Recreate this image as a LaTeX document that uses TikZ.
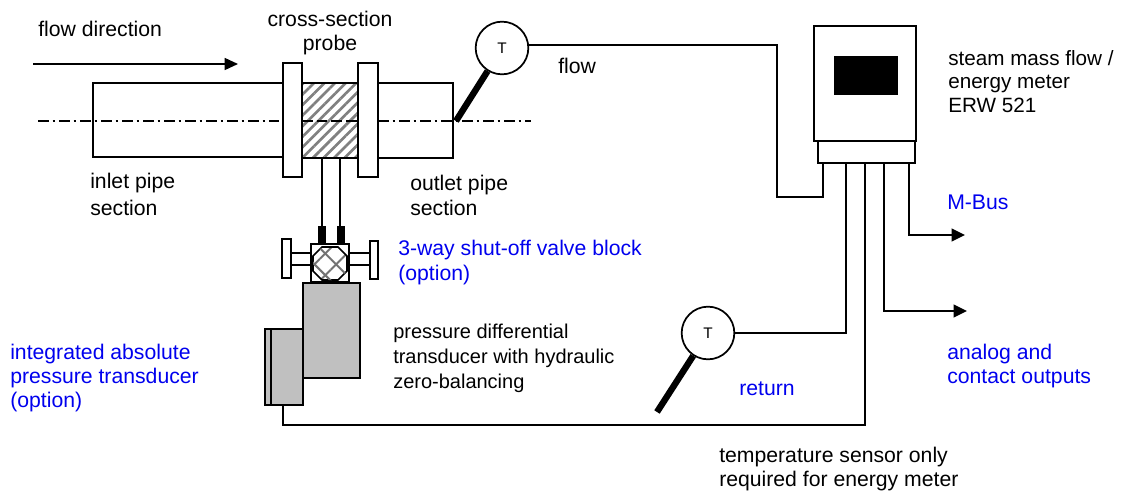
\documentclass[tikz,border=0pt]{standalone}
\usepackage{fontspec}
\setmainfont{Liberation Sans}
\usetikzlibrary{patterns.meta,arrows.meta,shapes.geometric}
\definecolor{bodygray}{HTML}{C0C0C0}
\definecolor{labelblue}{HTML}{0000EE}
\tikzset{
  part/.style={draw,line width=1.3pt,fill=white},
  wire/.style={line width=1.3pt},
  stem/.style={line width=4.8pt},
  axisline/.style={line width=1.1pt,dash pattern=on 8.25pt off 2.75pt on 2pt off 2.75pt},
  sensor/.style={draw,circle,line width=1.3pt,fill=white,minimum size=39.5pt,inner sep=0pt,font=\fontsize{11.5}{12}\selectfont},
  outarrow/.style={wire,-{Triangle[length=10pt,width=9.5pt]}},
  label/.style={inner sep=0pt,anchor=north west,align=left,font=\fontsize{15.9}{17.7}\selectfont},
  bluelabel/.style={label,text=labelblue}
}
\begin{document}
\begin{tikzpicture}[x=0.75pt,y=-0.75pt]
\useasboundingbox (0,0) rectangle (1122,492);
% Flow arrow
\coordinate (flowstart) at (33,64);
\coordinate (flowend) at (238,64);
\draw[line width=1.1pt,-{Triangle[length=10pt,width=9pt]}] (flowstart) -- (flowend);

% Pipe sections
\draw[part] (93,83) rectangle (283,157);
\draw[part] (378,83) rectangle (453,158);

% Probe and flanges
\fill[pattern={Lines[angle=45,distance=5.6pt,line width=2pt]},pattern color=black!50] (302,83) rectangle (358,158);
\draw[line width=1.3pt] (302,83) rectangle (358,158);
\draw[part] (283,63) rectangle (302,177);
\draw[part] (358,63) rectangle (378,177);

% Center line
\coordinate (axisleft) at (38,121);
\coordinate (axisright) at (531,121);
\draw[axisline] (axisleft) -- (279,121);
\draw[axisline,line width=0.8pt,dash pattern=on 8pt off 3pt] (302,121) -- (358,121);
\draw[axisline,line width=0.9pt] (378,121) -- (axisright);

% Impulse lines
\coordinate (probeleft) at (322,158);
\coordinate (proberight) at (340,158);
\coordinate (blockleft) at (322,226);
\coordinate (blockright) at (340,226);
\draw[wire] (probeleft) -- (blockleft);
\draw[wire] (proberight) -- (blockright);
\fill (318,226) rectangle (326,244);
\fill (337,226) rectangle (345,244);

% Valve block
\draw[part] (290,253) rectangle (311,265);
\draw[part] (349,253) rectangle (370,265);
\draw[part] (282,239) rectangle (291,278);
\draw[part] (370,241) rectangle (378,279);
\draw[part] (311,244) rectangle (349,282);
\path[draw,line width=1.3pt,pattern={Lines[angle=45,distance=11.5pt,line width=1.5pt]},pattern color=black!55]
  (322,247) -- (338,247) -- (347,256) -- (347,271) -- (338,280) -- (322,280) -- (313,271) -- (313,256) -- cycle;
\path[pattern={Lines[angle=-45,distance=11.5pt,line width=1.5pt]},pattern color=black!55]
  (322,247) -- (338,247) -- (347,256) -- (347,271) -- (338,280) -- (322,280) -- (313,271) -- (313,256) -- cycle;

% Transducer
\draw[part,fill=bodygray] (303,283) rectangle (360,378);
\draw[part,fill=bodygray] (265,329) rectangle (303,405);
\draw[wire] (271,329) -- (271,405);

% Temperature sensors
\coordinate (flowtap) at (456,121);
\coordinate (returntip) at (657,412);
\node[sensor] (tflow) at (502,48) {T};
\node[sensor] (treturn) at (708,333) {T};
\draw[stem] (tflow.238) -- (flowtap);
\draw[stem] (treturn.237) -- (returntip);

% Meter
\node[part,minimum width=76.5pt,minimum height=86.25pt,inner sep=0pt] (meter) at (865,83.5) {};
\node[fill=black,minimum width=48pt,minimum height=29pt,inner sep=0pt] (display) at (866,75.5) {};
\node[part,minimum width=72.75pt,minimum height=16.5pt,inner sep=0pt] (terminal) at (866.5,152) {};

% Wiring
\coordinate (flowcorner) at (777,197);
\coordinate (flowpin) at (823,163);
\coordinate (returnpin) at (846,163);
\coordinate (pressurepin) at (865,163);
\coordinate (analogpin) at (884,163);
\coordinate (buspin) at (909,163);
\coordinate (analogend) at (967,311);
\coordinate (busend) at (965,235);
\coordinate (pressurecorner) at (283,425);
\coordinate (pressureout) at (283,405);
\draw[wire] (tflow.7) -| (flowcorner) -| (flowpin);
\draw[wire] (treturn.east) -| (returnpin);
\draw[wire] (pressureout) |- (pressurecorner) -| (pressurepin);
\draw[outarrow] (analogpin) |- (analogend);
\draw[outarrow] (buspin) |- (busend);

% Labels
\node[label] (flowdir) at (38,21) {flow direction};
\node[label,anchor=north,align=center] (probe) at (330,11) {cross-section\\probe};
\node[label] (flowlab) at (558,58) {flow};
\node[label,font=\fontsize{15.5}{17.7}\selectfont] (meterlab) at (948,50) {steam mass flow /\\energy meter\\ERW 521};
\node[label,font=\fontsize{15.9}{20}\selectfont] (inletlab) at (90,173) {inlet pipe\\section};
\node[label,font=\fontsize{15.9}{19}\selectfont] (outletlab) at (410,175) {outlet pipe\\section};
\node[bluelabel,font=\fontsize{15.9}{18.5}\selectfont] (valvelab) at (398,240) {3-way shut-off valve block\\(option)};
\node[label,font=\fontsize{15}{18.5}\selectfont] (transducerlab) at (393,324) {pressure differential\\transducer with hydraulic\\zero-balancing};
\node[bluelabel,font=\fontsize{15.9}{18}\selectfont] (absolutelab) at (10,344) {integrated absolute\\pressure transducer\\(option)};
\node[bluelabel] (returnlab) at (739,382) {return};
\node[bluelabel] (analoglab) at (947,344) {analog and\\contact outputs};
\node[bluelabel] (buslab) at (947,195) {M-Bus};
\node[label] (templab) at (719,447) {temperature sensor only\\required for energy meter};
\end{tikzpicture}
\end{document}
